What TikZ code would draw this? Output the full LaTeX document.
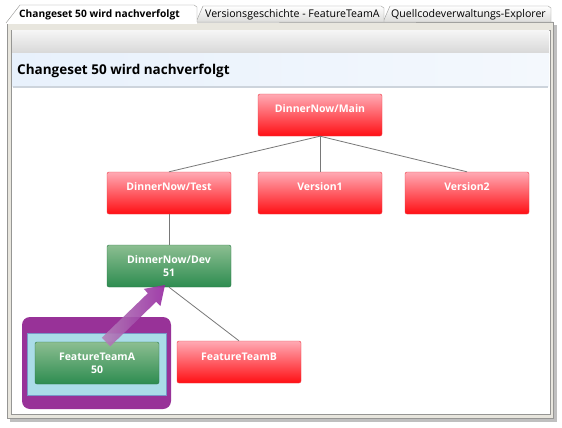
\documentclass[tikz,border=0pt]{standalone}
\usepackage{fontspec}
\setmainfont{Open Sans}
\usetikzlibrary{calc}
\definecolor{redtop}{RGB}{255,170,180}
\definecolor{redbot}{RGB}{255,15,20}
\definecolor{redline}{RGB}{235,60,70}
\definecolor{greentop}{RGB}{140,190,145}
\definecolor{greenbot}{RGB}{45,140,80}
\definecolor{greenline}{RGB}{40,120,70}
\definecolor{purplebox}{RGB}{152,50,152}
\definecolor{lightblue}{RGB}{170,220,232}
\definecolor{lightblueline}{RGB}{120,150,200}
\definecolor{arrowtail}{RGB}{180,130,185}
\definecolor{arrowhead}{RGB}{150,40,160}
\definecolor{panelgray}{RGB}{232,230,222}
\definecolor{bordergray}{RGB}{150,150,148}
\definecolor{tabgray}{RGB}{220,220,218}
\definecolor{conn}{RGB}{120,120,120}
\definecolor{hdrleft}{RGB}{232,241,252}
\definecolor{hdrright}{RGB}{244,248,253}
\definecolor{hdrline}{RGB}{205,212,220}
\tikzset{
  redbox/.style={draw=redline, rounded corners=2pt, top color=redtop, bottom color=redbot, minimum width=124pt, minimum height=42pt, inner sep=0pt},
  greenbox/.style={draw=greenline, rounded corners=2pt, top color=greentop, bottom color=greenbot, minimum width=124pt, minimum height=42pt, inner sep=0pt},
  lbl/.style={text=white, font=\fontsize{10.5}{13}\selectfont\bfseries, align=center, inner sep=0pt},
  connector/.style={draw=conn, line width=0.8pt},
  tabtxt/.style={font=\fontsize{10.6}{12}\selectfont, inner sep=0pt, anchor=west}
}
\begin{document}
\begin{tikzpicture}[x=1pt,y=-1pt]
\useasboundingbox (0,0) rectangle (562,428);
\fill[white] (0,0) rectangle (562,428);
% shadow
\fill[black!25] (10,25) rectangle (557,422);
% outer panel
\draw[bordergray, fill=panelgray] (7,22) rectangle (553,418);
% tabs
\draw[bordergray, top color=white, bottom color=tabgray] (383,22) -- (390,6) -- (548,6) -- (551,8) -- (551,22);
\draw[bordergray, top color=white, bottom color=tabgray] (196,22) -- (203,6) -- (381,6) -- (384,8) -- (384,22);
\draw[bordergray, fill=white] (6,23) -- (20,5) -- (194,5) -- (197,7) -- (197,22) -- (553,22);
\fill[white] (7,22) rectangle (197,24);
\node[tabtxt, font=\fontsize{10.2}{12}\selectfont\bfseries] (tab1) at (19,14.5) {Changeset 50 wird nachverfolgt};
\node[tabtxt] (tab2) at (205,14.5) {Versionsgeschichte - FeatureTeamA};
\node[tabtxt] (tab3) at (391,14.5) {Quellcodeverwaltungs-Explorer};
% inner frame
\draw[bordergray, fill=white] (11,30) rectangle (550,414);
\shade[top color=black!4, bottom color=black!16] (12,31) rectangle (549,54);
\shade[left color=hdrleft, right color=hdrright] (12,54) rectangle (549,86);
\draw[hdrline, line width=1.2pt] (13,87) -- (548,87);
\node[font=\fontsize{13.5}{15}\selectfont\bfseries, anchor=west, inner sep=0pt] (title) at (17,71) {Changeset 50 wird nachverfolgt};
% highlight boxes
\fill[purplebox, rounded corners=8pt] (22,317) rectangle (171,409);
\draw[fill=lightblue, draw=lightblueline] (27,333) rectangle (166,395);
% nodes
\node[redbox] (main) at (320,115) {};
\node[redbox] (test) at (169,193) {};
\node[redbox] (v1) at (320,193) {};
\node[redbox] (v2) at (467,193) {};
\node[greenbox] (dev) at (169,266) {};
\node[redbox] (ftb) at (239,362) {};
\node[greenbox] (fta) at (97,363) {};
\node[lbl] (mainl) at ($(main.center)+(0,-6)$) {DinnerNow/Main};
\node[lbl] (testl) at ($(test.center)+(0,-6)$) {DinnerNow/Test};
\node[lbl] (v1l) at ($(v1.center)+(0,-6)$) {Version1};
\node[lbl] (v2l) at ($(v2.center)+(0,-6)$) {Version2};
\node[lbl] (devl) at ($(dev.center)+(0,0)$) {DinnerNow/Dev\\51};
\node[lbl] (ftbl) at ($(ftb.center)+(0,-5)$) {FeatureTeamB};
\node[lbl] (ftal) at ($(fta.center)+(0,0)$) {FeatureTeamA\\50};
% connectors
\draw[connector] (main.south) -- (test.north);
\draw[connector] (main.south) -- (v1.north);
\draw[connector] (main.south) -- (v2.north);
\draw[connector] (test.south) -- (dev.north);
\draw[connector] (dev.south) -- (ftb.north);
% purple arrow
\shade[left color=arrowtail, right color=arrowhead, opacity=0.9]
  (110.2,346.3) -- (156.2,301.8) -- (160.4,306.1) -- (165,285) -- (143.7,288.9) -- (147.9,293.2) -- (101.8,337.7) -- cycle;
\end{tikzpicture}
\end{document}
